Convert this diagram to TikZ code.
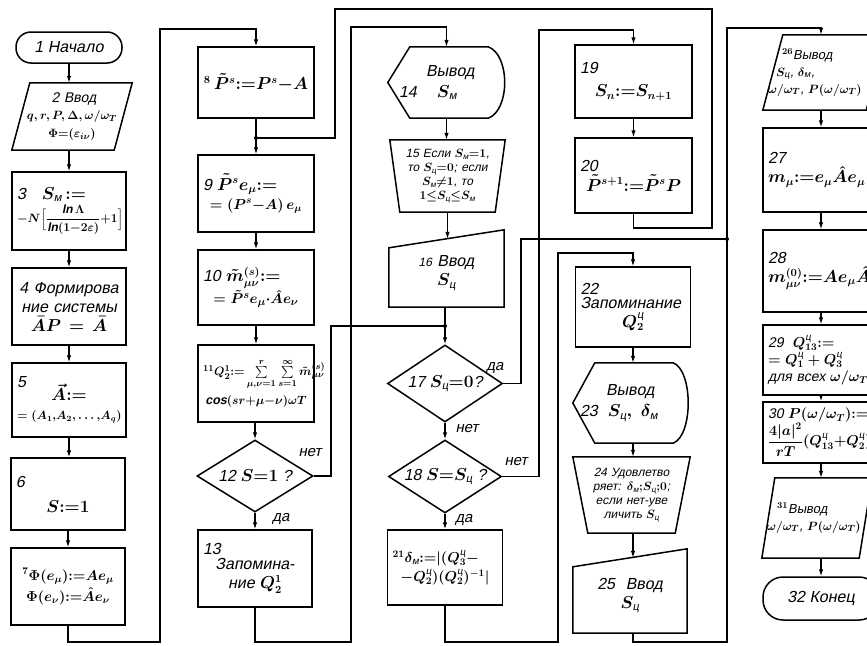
\documentclass[tikz,border=0pt]{standalone}
\usepackage{amsmath}
\usepackage{fontspec}
\setmainfont{Liberation Sans}[FakeSlant=0.2]
\usetikzlibrary{arrows.meta,calc,shapes.geometric}
\newcommand{\rM}{\text{м}}
\newcommand{\rC}{\text{ц}}
\newcommand{\as}{\mathord{:}\mathord{=}}
\newcommand{\bnum}[1]{\makebox[\hsize][l]{#1}}
\newcommand{\fz}[1]{\fontsize{#1}{#1}\selectfont}
\begin{document}
\begin{tikzpicture}[x=1pt,y=-1pt,
  box/.style={draw, line width=1.5pt, inner sep=2pt, align=center},
  ghost/.style={inner sep=2pt, align=center},
  sz/.style 2 args={minimum width=#1pt, minimum height=#2pt, text width=#1pt-10pt},
  ln/.style={line width=1.1pt},
  arr/.style={ln, -{Latex[length=7pt,width=4.5pt]}},
  shp/.style={line width=1.5pt, line join=miter},
  dia/.style={draw, diamond, line width=1.5pt, inner sep=0pt, aspect=1.6},
  jdot/.style={circle, fill, inner sep=0pt, minimum size=4pt},
  lbl/.style={inner sep=1pt, font=\fontsize{15}{17}\selectfont},
  fA/.style={font=\fontsize{16}{19}\selectfont\boldmath},
  fB/.style={font=\fontsize{14}{17}\selectfont\boldmath},
  fC/.style={font=\fontsize{12}{14}\selectfont\boldmath},
]
\useasboundingbox (0,0) rectangle (867,645);
\clip (0,0) rectangle (867,645);

% ---------- column 1 ----------
\node[box, fA, rounded corners=15pt, minimum width=106pt, minimum height=31pt] (n1) at (69,47.5) {1 Начало};
\node[ghost, fB, sz={120}{67}] (n2) at (72,116.5) {\hspace*{4pt}2 Ввод\\ {\fz{12.5}\mbox{$q,r,P,\Delta,\omega/\omega_T$}}\\[1pt] {\fz{13}\mbox{$\Phi{=}(\varepsilon_{i\nu})$}}};
\draw[shp] ($(n2.north west)+(18,0)$) -- (n2.north east) -- ($(n2.south east)-(18,0)$) -- (n2.south west) -- cycle;
\node[box, fA, sz={114}{78}] (n3) at (69,211) {\bnum{3\quad $S_\rM\,\as$}\\[2pt] {\fz{12}\mbox{$-N\Bigl[\dfrac{\ln\Lambda}{\ln(1{-}2\varepsilon)}{+}1\Bigr]$}}};
\node[box, fA, sz={114}{77}] (n4) at (69,306.5) {4 Формирова\\ние системы\\ $\bar{A}P=\bar{A}$};
\node[box, fA, sz={114}{74}] (n5) at (69,400) {\bnum{5}\\[-6pt] $\vec{A}\as$\\ {\fz{11.5}\mbox{$=(A_1{,}A_2{,}\ldots{,}A_q)$}}};
\node[box, fA, sz={114}{72}] (n6) at (68,494) {\bnum{6}\\[6pt] $S\as 1$};
\node[box, font=\fontsize{14.5}{21}\selectfont\boldmath, sz={114}{77}] (n7) at (68,586.5) {\mbox{$^7\Phi(e_\mu)\as Ae_\mu$}\\ \mbox{$\Phi(e_\nu)\as\hat{A}e_\nu$}};

% ---------- column 2 ----------
\node[box, fA, sz={116}{71}] (n8) at (256,82.5) {\mbox{$^8\,\tilde{P}^s\as P^s{-}A$}};
\node[box, fA, sz={116}{77}] (n9) at (256,193.5) {\bnum{9 $\tilde{P}^s e_\mu \as$}\\ {\fz{14.5}\mbox{$=(P^s{-}A)\,e_\mu$}}};
\node[box, fA, sz={116}{75}] (n10) at (256,287.5) {\bnum{10 $\tilde{m}^{(s)}_{\mu\nu}\as$}\\ {\fz{15}\mbox{$=\tilde{P}^s e_\mu{\cdot}\hat{A}e_\nu$}}};
\node[box, font=\fontsize{12.5}{15}\selectfont\boldmath, sz={116}{77}] (n11) at (256,383.5) {\bnum{\mbox{$^{11}Q_2^1{\as}\sum\limits_{\mu,\nu=1}^{r}\sum\limits_{s=1}^{\infty}\tilde{m}^{(s)}_{\mu\nu}$}}\\[5pt] \mbox{$\cos(sr{+}\mu{-}\nu)\omega T$}};
\node[dia, fA, minimum width=116pt, minimum height=72pt] (n12) at (255,476) {12 $S{=}1$ ?};
\node[box, fA, sz={114}{77}] (n13) at (255,568.5) {\bnum{13}\\[-4pt] Запомина-\\ние $Q_2^1$};

% ---------- column 3 ----------
\node[ghost, fA, sz={117}{71}, align=left] (n14) at (446.5,82.5) {\hspace*{33pt}Вывод\\[2pt] \hspace*{6pt}14\hspace*{20pt}$S_\rM$};
\draw[shp] (n14.west) -- ($(n14.north west)+(22,0)$) -- ($(n14.north east)+(-17,0)$)
  .. controls ($(n14.north east)+(5,8)$) and ($(n14.south east)+(5,-8)$) .. ($(n14.south east)+(-17,0)$)
  -- ($(n14.south west)+(22,0)$) -- cycle;
\node[ghost, fC, sz={115}{72}] (n15) at (447.5,176) {15 Если $S_\rM{=}1$,\\ то $S_\rC{=}0$; если\\ $S_\rM{\neq}1$, то\\ $1{\leq}S_\rC{\leq}S_\rM$};
\draw[shp] (n15.north west) -- (n15.north east) -- ($(n15.south east)+(-10,0)$) -- ($(n15.south west)+(10,0)$) -- cycle;
\node[ghost, fA, sz={115}{68}] (n16) at (446.5,273) {{\fz{12}16}\ Ввод\\ $S_\rC$};
\draw[shp] (n16.south west) -- ($(n16.north west)+(0,9)$) -- ($(n16.north east)+(0,-9)$) -- (n16.south east) -- cycle;
\node[dia, fA, minimum width=115pt, minimum height=77pt] (n17) at (445,383.5) {17 $S_\rC{=}0$?};
\node[dia, fA, minimum width=113pt, minimum height=73pt] (n18) at (445,476.5) {18 $S{=}S_\rC$ ?};
\node[box, fB, sz={115}{75}] (n21) at (445,567.5) {\bnum{\mbox{$^{21}\delta_\rM\as|(Q_3^\rC-$}}\\[2pt] \mbox{$-Q_2^\rC)(Q_2^\rC)^{-1}|$}};

% ---------- column 4 ----------
\node[box, fA, sz={117}{73}] (n19) at (633.5,81.5) {\bnum{19}\\[4pt] \mbox{$S_n\as S_{n+1}$}};
\node[box, fA, sz={117}{75}, text depth=20pt] (n20) at (633.5,175.5) {\bnum{20}\\[1pt] \mbox{$\tilde{P}^{s+1}\as\tilde{P}^sP$}};
\node[box, fA, sz={115}{80}] (n22) at (633,307) {\bnum{22}\\[-5pt] \bnum{Запоминание}\\ $Q_2^\rC$};
\node[ghost, fA, sz={115}{80}, align=left] (n23) at (630.5,403) {\hspace*{28pt}Вывод\\[2pt] \hspace*{2pt}23\hspace*{10pt}$S_\rC,\ \delta_\rM$};
\draw[shp] (n23.west) -- ($(n23.north west)+(22,0)$) -- ($(n23.north east)+(-15,0)$)
  .. controls ($(n23.north east)+(5,8)$) and ($(n23.south east)+(5,-8)$) .. ($(n23.south east)+(-15,0)$)
  -- ($(n23.south west)+(22,0)$) -- cycle;
\node[ghost, fC, sz={117}{76}] (n24) at (631.5,495) {24 Удовлетво\\ ряет: $\delta_\rM{;}S_\rC{;}0$;\\ если нет-уве\\ личить $S_\rC$};
\draw[shp] (n24.north west) -- (n24.north east) -- ($(n24.south east)+(-15,0)$) -- ($(n24.south west)+(15,0)$) -- cycle;
\node[ghost, fA, sz={114}{75}] (n25) at (630,595.5) {25\ \ Ввод\\ $S_\rC$};
\draw[shp] (n25.south west) -- ($(n25.north west)+(0,9)$) -- ($(n25.north east)+(0,-9)$) -- (n25.south east) -- cycle;

% ---------- column 5 ----------
\node[ghost, font=\fontsize{13}{17}\selectfont\boldmath, sz={123}{75}, align=left] (n26) at (824.5,72.5) {\hspace*{14pt}$^{26}$Вывод\\ \hspace*{8pt}$S_\rC$, $\delta_\rM$,\\ \mbox{$\omega/\omega_T$, $P(\omega/\omega_T)$}};
\draw[shp] ($(n26.north west)+(20,0)$) -- (n26.north east) -- ($(n26.south east)-(20,0)$) -- (n26.south west) -- cycle;
\node[box, fA, sz={116}{84}, align=left] (n27) at (821,170) {27\\ \mbox{$m_\mu\as e_\mu\hat{A}e_\mu$}};
\node[box, fA, sz={116}{82}, align=left] (n28) at (821,271) {28\\ \mbox{$m^{(0)}_{\mu\nu}\as Ae_\mu\hat{A}e_\nu$}};
\node[box, fB, sz={116}{70}, align=left] (n29) at (821,360) {29\ \ $Q^\rC_{13}\as$\\ \mbox{$=Q_1^\rC+Q_3^\rC$}\\ для всех $\omega/\omega_T$};
\node[box, fB, sz={116}{61}, align=left] (n30) at (821,432.5) {30 \mbox{$P(\omega/\omega_T)\as$}\\ \mbox{$\dfrac{4|a|^2}{rT}(Q^\rC_{13}{+}Q^\rC_2)$}};
\node[ghost, font=\fontsize{13}{17}\selectfont\boldmath, sz={110}{80}, align=left] (n31) at (817,518) {\hspace*{10pt}$^{31}$Вывод\\ \mbox{$\omega/\omega_T$, $P(\omega/\omega_T)$}};
\draw[shp] ($(n31.north west)+(13,0)$) -- (n31.north east) -- ($(n31.south east)-(13,0)$) -- (n31.south west) -- cycle;
\node[box, fA, rounded corners=20pt, minimum width=116pt, minimum height=43pt] (n32) at (821,598.5) {32 Конец};

% ---------- junctions and corners ----------
\coordinate (j9) at (256,138);
\coordinate (j17) at (445,326);
\coordinate (j26) at (727,239);
\coordinate (r7a) at (160,642);
\coordinate (r7b) at (160,29);
\coordinate (r13a) at (351,642);
\coordinate (r13b) at (351,27);
\coordinate (r12) at (331,326);
\coordinate (r17) at (521,239);
\coordinate (r18) at (539,30);
\coordinate (r20a) at (712,228);
\coordinate (r20b) at (712,9);
\coordinate (r20c) at (335,9);
\coordinate (r21a) at (558,642);
\coordinate (r21b) at (558,253);
\coordinate (r25a) at (727,642);
\coordinate (r25b) at (727,28);

% ---------- connectors ----------
\draw[arr] (n1.south) -- (n1.south |- n2.north);
\draw[arr] (n2.south -| n3.north) -- (n3.north);
\draw[arr] (n3.south) -- (n4.north);
\draw[arr] (n4.south) -- (n5.north);
\draw[arr] (n5.south) -- (n5.south |- n6.north);
\draw[arr] (n6.south) -- (n7.north);
\draw[arr] (n7.south) |- (r7a) -- (r7b) -| (n8.north);

\draw[ln] (n8.south) -- (j9);
\draw[arr] (j9) -- (n9.north);
\draw[arr] (n9.south) -- (n10.north);
\draw[arr] (n10.south) -- (n11.north);
\draw[arr] (n11.south -| n12.north) -- (n12.north);
\draw[arr] (n12.south) -- (n13.north);
\draw[arr] (n13.south) |- (r13a) -- (r13b) -| (n14.north);
\draw[ln] (n12.east) -| (r12) -- (j17);

\draw[arr] (n14.south) -- (n14.south |- n15.north);
\draw[arr] (n15.south) -- (n15.south |- n16.north);
\draw[ln] (n16.south -| j17) -- (j17);
\draw[arr] (j17) -- (n17.north);
\draw[arr] (n17.south) -- (n18.north);
\draw[arr] (n18.south) -- (n21.north);
\draw[ln] (n17.east) -| (r17) -- (j26);
\draw[arr] (n18.east) -| (r18) -| (n19.north);

\draw[arr] (n19.south) -- (n20.north);
\draw[ln] (n20.south) |- (r20a) -- (r20b) -- (r20c) |- (j9);
\draw[arr] (n21.south) |- (r21a) -- (r21b) -| (n22.north);
\draw[arr] (n22.south) -- (n22.south |- n23.north);
\draw[arr] (n23.south -| n22.south) -- (n24.north -| n22.south);
\draw[arr] (n24.south -| n22.south) -- (n25.north -| n22.south);
\draw[ln] (n25.south -| n22.south) |- (r25a) -- (j26);
\draw[arr] (j26) -- (r25b) -| (n27.north |- n26.north);

\draw[arr] (n26.south -| n27.north) -- (n27.north);
\draw[arr] (n27.south) -- (n28.north);
\draw[arr] (n28.south) -- (n29.north);
\draw[arr] (n29.south) -- (n30.north);
\draw[arr] (n30.south) -- (n30.south |- n31.north);
\draw[arr] (n31.south -| n32.north) -- (n32.north);

\node[jdot] (d9) at (j9) {};
\node[jdot] (d17) at (j17) {};
\node[jdot] (d26) at (j26) {};

% ---------- branch labels ----------
\node[lbl] (t12n) at (310,453) {нет};
\node[lbl] (t12d) at (281,519) {да};
\node[lbl] (t17d) at (495,368) {да};
\node[lbl] (t17n) at (467,429) {нет};
\node[lbl] (t18n) at (516,462) {нет};
\node[lbl] (t18d) at (464,520) {да};
\end{tikzpicture}
\end{document}
